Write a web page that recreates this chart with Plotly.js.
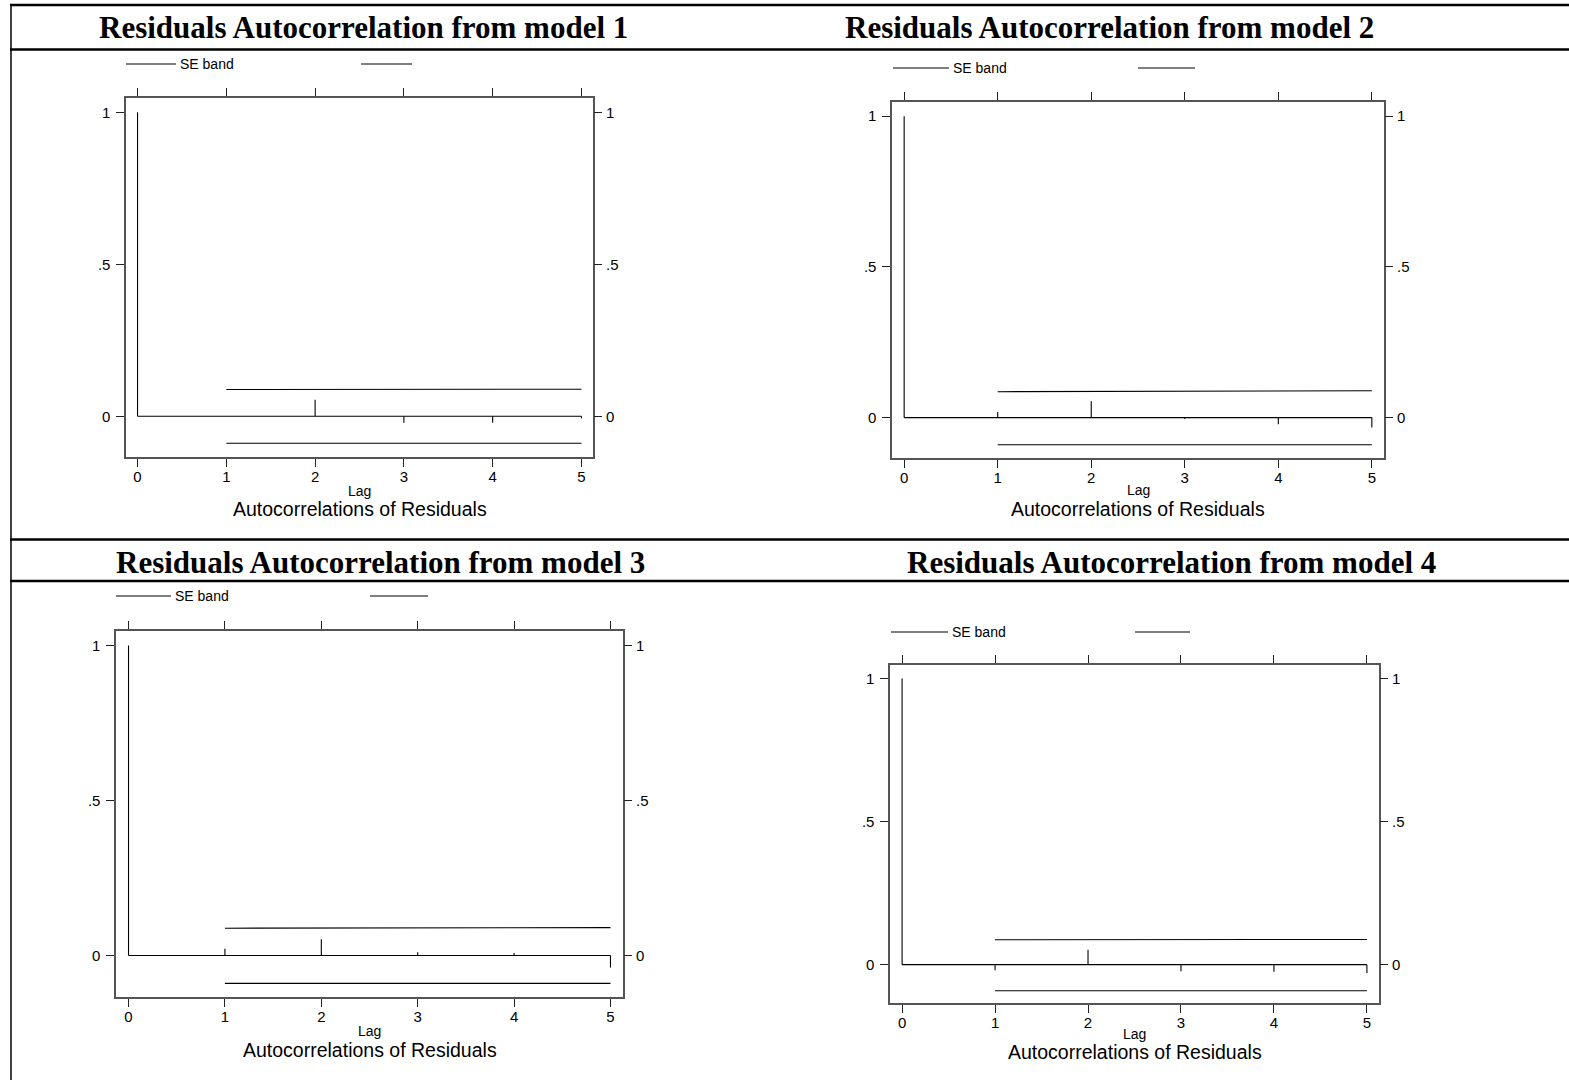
<!DOCTYPE html>
<html>
<head>
<meta charset="utf-8">
<script src="https://cdn.plot.ly/plotly-3.0.1.min.js"></script>
<style>
  html, body { margin: 0; padding: 0; background: #fff; }
  #chart { width: 1569px; height: 1080px; }
</style>
</head>
<body>
<div id="chart"></div>
<script>
// ---- data ----
const lags = [0, 1, 2, 3, 4, 5];
const lagLabels = ['0', '1', '2', '3', '4', '5'];
const bandLags = [1, 2, 3, 4, 5];
const yTickVals = [0, 0.5, 1];
const yTickText = ['0', '.5', '1'];

const panelTitles = [
  'Residuals Autocorrelation from model 1',
  'Residuals Autocorrelation from model 2',
  'Residuals Autocorrelation from model 3',
  'Residuals Autocorrelation from model 4'
];
const xTitle = 'Lag';
const captionText = 'Autocorrelations of Residuals';
const legendLabel = 'SE band';

const acf1 = [1, 0.000, 0.054, -0.021, -0.021, -0.007];
const acf2 = [1, 0.019, 0.054, -0.005, -0.022, -0.033];
const acf3 = [1, 0.022, 0.052, 0.010, 0.008, -0.039];
const acf4 = [1, -0.020, 0.052, -0.023, -0.025, -0.029];

const seUpper1 = [0.088, 0.089, 0.089, 0.089, 0.089];
const seLower1 = [-0.089, -0.089, -0.089, -0.089, -0.089];
const seUpper2 = [0.086, 0.087, 0.089, 0.089, 0.089];
const seLower2 = [-0.090, -0.090, -0.090, -0.090, -0.090];
const seUpper3 = [0.088, 0.089, 0.090, 0.090, 0.090];
const seLower3 = [-0.090, -0.090, -0.090, -0.090, -0.090];
const seUpper4 = [0.087, 0.088, 0.088, 0.088, 0.088];
const seLower4 = [-0.091, -0.091, -0.091, -0.091, -0.091];

const acfs = [acf1, acf2, acf3, acf4];
const uppers = [seUpper1, seUpper2, seUpper3, seUpper4];
const lowers = [seLower1, seLower2, seLower3, seLower4];

// ---- layout geometry (pixels) ----
const W = 1569, H = 1080;
const panels = [
  {x0: 126, x1: 593, y0: 98, y1: 457, titleY: 27, legY: 64, l1: [126, 176], txt: 178, l2: [361, 412], lagY: 491, capY: 509},
  {x0: 892, x1: 1384, y0: 102, y1: 458, titleY: 27, legY: 68, l1: [893, 949], txt: 951, l2: [1138, 1195], lagY: 490, capY: 509},
  {x0: 116, x1: 623, y0: 631, y1: 997, titleY: 562, legY: 596, l1: [116, 171], txt: 173, l2: [370, 428], lagY: 1031, capY: 1050},
  {x0: 890, x1: 1379, y0: 665, y1: 1003, titleY: 562, legY: 632, l1: [891, 948], txt: 950, l2: [1135, 1190], lagY: 1034, capY: 1052}
];
const titleCX = [363, 1109, 380, 1171];

const px = v => v / W;
const py = v => 1 - v / H;

const sansFont = 'Liberation Sans, Arial, sans-serif';
const xRange = [-0.13, 5.13];
const yRange = [-0.134, 1.047];

const traces = [];
const layout = {
  width: W, height: H,
  margin: {l: 0, r: 0, t: 0, b: 0},
  paper_bgcolor: '#ffffff',
  plot_bgcolor: '#ffffff',
  showlegend: false,
  shapes: [],
  annotations: []
};

const lineStyle = {color: '#000000', width: 1.1};

panels.forEach((p, i) => {
  const n = i + 1;
  const xa = 'x' + n, ya = 'y' + n, yr = 'y' + (n + 4);
  const acf = acfs[i];

  // spikes built from the acf values
  const sx = [], sy = [];
  lags.forEach((l, k) => { sx.push(l, l, null); sy.push(0, acf[k], null); });
  traces.push({x: sx, y: sy, type: 'scatter', mode: 'lines', line: lineStyle, xaxis: xa, yaxis: ya, hoverinfo: 'skip'});
  // baseline at 0 across the lags
  traces.push({x: [lags[0], lags[lags.length - 1]], y: [0, 0], type: 'scatter', mode: 'lines', line: lineStyle, xaxis: xa, yaxis: ya, hoverinfo: 'skip'});
  // SE band lines
  traces.push({x: bandLags, y: uppers[i], type: 'scatter', mode: 'lines', line: lineStyle, xaxis: xa, yaxis: yr, name: legendLabel});
  traces.push({x: bandLags, y: lowers[i], type: 'scatter', mode: 'lines', line: lineStyle, xaxis: xa, yaxis: yr, name: legendLabel});

  const tickFont = {family: sansFont, size: 15, color: '#000'};
  layout['xaxis' + n] = {
    domain: [px(p.x0), px(p.x1)], anchor: ya, range: xRange,
    tickmode: 'array', tickvals: lags, ticktext: lagLabels,
    ticks: 'outside', ticklen: 8, tickwidth: 1, tickcolor: '#222',
    showline: true, linecolor: '#555', linewidth: 1.6, mirror: 'ticks',
    showgrid: false, zeroline: false, tickfont: tickFont, fixedrange: true,
    ticklabelstandoff: -3
  };
  layout['yaxis' + n] = {
    domain: [py(p.y1), py(p.y0)], anchor: xa, range: yRange,
    tickmode: 'array', tickvals: yTickVals, ticktext: yTickText,
    ticks: 'outside', ticklen: 8, tickwidth: 1, tickcolor: '#222',
    showline: true, linecolor: '#555', linewidth: 1.6, mirror: true,
    showgrid: false, zeroline: false, tickfont: tickFont, fixedrange: true,
    ticklabelstandoff: 3
  };
  layout['yaxis' + (n + 4)] = {
    overlaying: ya, side: 'right', anchor: xa, range: yRange,
    tickmode: 'array', tickvals: yTickVals, ticktext: yTickText,
    ticks: 'outside', ticklen: 8, tickwidth: 1, tickcolor: '#222',
    showline: false, showgrid: false, zeroline: false, tickfont: tickFont, fixedrange: true,
    ticklabelstandoff: 1
  };

  // panel title
  layout.annotations.push({
    text: '<b>' + panelTitles[i] + '</b>', xref: 'paper', yref: 'paper',
    x: px(titleCX[i]), y: py(p.titleY), xanchor: 'center', yanchor: 'middle', showarrow: false,
    font: {family: 'Liberation Serif, Times New Roman, serif', size: 31, color: '#000'}
  });
  // axis title "Lag"
  layout.annotations.push({
    text: xTitle, xref: 'paper', yref: 'paper',
    x: px((p.x0 + p.x1) / 2), y: py(p.lagY), xanchor: 'center', yanchor: 'middle', showarrow: false,
    font: {family: sansFont, size: 14, color: '#000'}
  });
  // caption
  layout.annotations.push({
    text: captionText, xref: 'paper', yref: 'paper',
    x: px((p.x0 + p.x1) / 2), y: py(p.capY), xanchor: 'center', yanchor: 'middle', showarrow: false,
    font: {family: sansFont, size: 19.5, color: '#000'}
  });
  // legend
  layout.shapes.push({type: 'line', xref: 'paper', yref: 'paper', x0: px(p.l1[0]), x1: px(p.l1[1]), y0: py(p.legY), y1: py(p.legY), line: {color: '#000', width: 1.1}});
  layout.shapes.push({type: 'line', xref: 'paper', yref: 'paper', x0: px(p.l2[0]), x1: px(p.l2[1]), y0: py(p.legY), y1: py(p.legY), line: {color: '#000', width: 1.1}});
  layout.annotations.push({
    text: legendLabel, xref: 'paper', yref: 'paper',
    x: px(p.txt), y: py(p.legY), xanchor: 'left', yanchor: 'middle', showarrow: false,
    font: {family: sansFont, size: 14, color: '#000'}
  });
});

// document table rules
const rule = (x0, y0, x1, y1, w) => ({type: 'line', xref: 'paper', yref: 'paper', x0: px(x0), y0: py(y0), x1: px(x1), y1: py(y1), line: {color: '#000', width: w}, layer: 'above'});
layout.shapes.push(rule(10, 5, W, 5, 2.5));
layout.shapes.push(rule(10, 49.5, W, 49.5, 2.5));
layout.shapes.push(rule(10, 539.5, W, 539.5, 2.5));
layout.shapes.push(rule(10, 581, W, 581, 2.5));
layout.shapes.push(rule(11, 4, 11, H, 1.5));

Plotly.newPlot('chart', traces, layout, {staticPlot: true, displayModeBar: false});
</script>
</body>
</html>
